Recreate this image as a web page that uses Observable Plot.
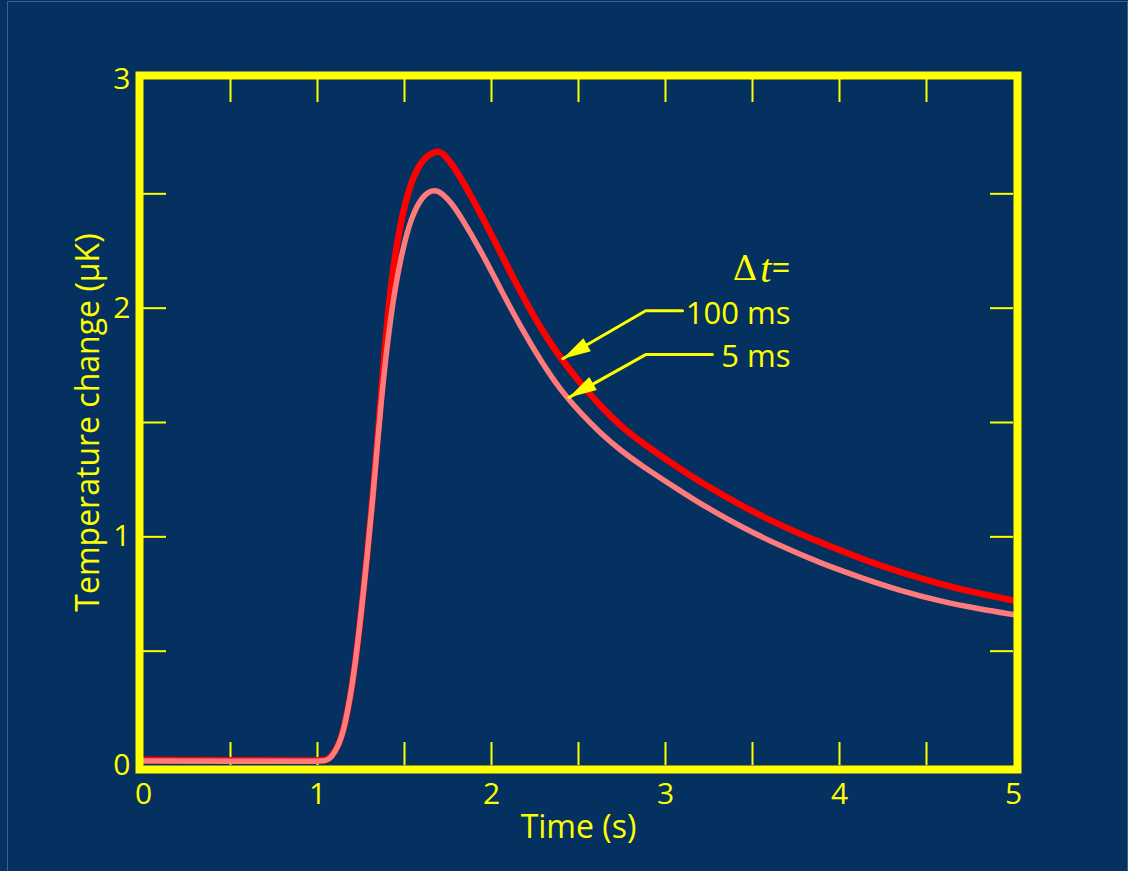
<!DOCTYPE html>
<html>
<head>
<meta charset="utf-8">
<script src="https://cdn.jsdelivr.net/npm/d3@7"></script>
<script src="https://cdn.jsdelivr.net/npm/@observablehq/plot@0.6"></script>
<style>
  html, body { margin: 0; padding: 0; background: #04315f; overflow: hidden; }
  #wrap { position: relative; width: 1128px; height: 871px; }
  #edge { position: absolute; left: 7px; top: 1px; width: 1119px; height: 880px;
          border: 1px solid #3b5f90; border-bottom: none; pointer-events: none; }
  #chart { position: absolute; left: 0; top: 0; }
</style>
</head>
<body>
<div id="wrap"><div id="edge"></div><div id="chart"></div></div>
<script>
// ---- data ----
const pinkT = [0, 0.5, 1.0, 1.05, 1.08, 1.12, 1.155, 1.213, 1.27, 1.318, 1.365, 1.423, 1.48, 1.538, 1.61, 1.675, 1.72, 1.77, 1.824, 1.94, 2.054, 2.17, 2.283, 2.398, 2.513, 2.628, 2.742, 2.857, 3.087, 3.20, 3.43, 3.66, 3.89, 4.12, 4.35, 4.58, 4.81, 5.0];
const pinkV = [0.02, 0.018, 0.018, 0.02, 0.035, 0.085, 0.16, 0.40, 0.80, 1.16, 1.60, 1.99, 2.23, 2.40, 2.50, 2.52, 2.50, 2.46, 2.40, 2.25, 2.08, 1.915, 1.77, 1.64, 1.54, 1.452, 1.378, 1.314, 1.20, 1.145, 1.045, 0.96, 0.885, 0.822, 0.764, 0.718, 0.684, 0.66];
const redT = [0, 0.5, 1.0, 1.05, 1.08, 1.12, 1.155, 1.213, 1.27, 1.318, 1.365, 1.41, 1.46, 1.52, 1.595, 1.68, 1.72, 1.767, 1.824, 1.94, 2.054, 2.17, 2.283, 2.398, 2.513, 2.628, 2.742, 2.857, 3.087, 3.20, 3.43, 3.66, 3.89, 4.12, 4.35, 4.58, 4.81, 5.0];
const redV = [0.025, 0.022, 0.022, 0.024, 0.037, 0.087, 0.162, 0.402, 0.805, 1.17, 1.62, 2.04, 2.31, 2.52, 2.65, 2.69, 2.68, 2.635, 2.57, 2.41, 2.24, 2.065, 1.91, 1.78, 1.67, 1.57, 1.485, 1.415, 1.295, 1.24, 1.138, 1.05, 0.975, 0.905, 0.845, 0.793, 0.75, 0.722];

const xTickLabels = [0, 1, 2, 3, 4, 5];
const yTickLabels = [0, 1, 2, 3];
const xMinorTicks = [0.5, 1, 1.5, 2, 2.5, 3, 3.5, 4, 4.5];
const yMinorTicks = [0.5, 1, 1.5, 2, 2.5];

// annotation leaders (data units)
const leaderName = ["100 ms", "100 ms", "100 ms", "5 ms", "5 ms", "5 ms"];
const leaderT = [3.098, 2.886, 2.41, 3.27, 2.886, 2.444];
const leaderV = [1.989, 1.989, 1.779, 1.797, 1.797, 1.609];
const arrowTipT = [2.41, 2.444];
const arrowTipV = [1.779, 1.609];
const labelText = ["100 ms", "5 ms"];
const labelT = [3.718, 3.718];
const labelV = [1.976, 1.784];
const deltaT = [3.718];
const deltaV = [2.172];

const xLabel = "Time (s)";
const yLabel = "Temperature change (\u03bcK)";

// ---- styles ----
const YELLOW = "#ffff00";
const RED = "#ff0000";
const PINK = "#ff7a7a";
const FONT = "'Open Sans', Lato, sans-serif";
const SERIF = "'Liberation Serif', 'DejaVu Serif', serif";

const pink = pinkT.map((t, i) => ({t, v: pinkV[i]}));
const red = redT.map((t, i) => ({t, v: redV[i]}));
const leaders = leaderT.map((t, i) => ({t, v: leaderV[i], z: leaderName[i]}));
const tips = arrowTipT.map((t, i) => ({t, v: arrowTipV[i]}));
const labels = labelT.map((t, i) => ({t, v: labelV[i], s: labelText[i]}));
const delta = deltaT.map((t, i) => ({t, v: deltaV[i]}));

// filled arrowhead symbol, tip at the anchor point
function arrowHead(angleDeg, L, W) {
  const a = angleDeg * Math.PI / 180;
  const dx = Math.cos(a), dy = Math.sin(a);
  const nx = -dy, ny = dx;
  return {
    draw(ctx) {
      ctx.moveTo(0, 0);
      ctx.lineTo(-L * dx + W * nx, -L * dy + W * ny);
      ctx.lineTo(-L * dx - W * nx, -L * dy - W * ny);
      ctx.closePath();
    }
  };
}

const tickLenY = 23 / 228.7; // in y units
const tickLenX = 23 / 174;   // in x units

const chart = Plot.plot({
  width: 1128,
  height: 871,
  marginLeft: 143,
  marginRight: 115,
  marginTop: 79,
  marginBottom: 106,
  style: {background: "transparent", color: YELLOW, fontFamily: FONT, overflow: "visible"},
  x: {domain: [0, 5]},
  y: {domain: [0, 3]},
  marks: [
    Plot.axisX({ticks: xTickLabels, tickSize: 0, tickPadding: 17, fontSize: 30, label: null, tickFormat: d => String(d), fill: YELLOW}),
    Plot.axisY({ticks: yTickLabels, tickSize: 0, tickPadding: 13, fontSize: 30, label: null, tickFormat: d => String(d), fill: YELLOW}),
    // inward ticks on all four sides
    Plot.ruleX(xMinorTicks, {x: d => d, y1: 0, y2: tickLenY, stroke: YELLOW, strokeWidth: 2}),
    Plot.ruleX(xMinorTicks, {x: d => d, y1: 3 - tickLenY, y2: 3, stroke: YELLOW, strokeWidth: 2}),
    Plot.ruleY(yMinorTicks, {y: d => d, x1: 0, x2: tickLenX, stroke: YELLOW, strokeWidth: 2}),
    Plot.ruleY(yMinorTicks, {y: d => d, x1: 5 - tickLenX, x2: 5, stroke: YELLOW, strokeWidth: 2}),
    // curves
    Plot.line(red, {x: "t", y: "v", stroke: RED, strokeWidth: 6.5, curve: "basis"}),
    Plot.line(pink, {x: "t", y: "v", stroke: PINK, strokeWidth: 5.5, curve: "basis"}),
    // annotations
    Plot.line(leaders, {x: "t", y: "v", z: "z", stroke: YELLOW, strokeWidth: 3, strokeLinejoin: "miter"}),
    Plot.dot(tips, {x: "t", y: "v", symbol: arrowHead(150, 28, 7.5), fill: YELLOW, stroke: "none", r: 5}),
    Plot.text(labels, {x: "t", y: "v", text: "s", textAnchor: "end", fontSize: 31, fill: YELLOW}),
    Plot.text(delta, {x: "t", y: "v", text: () => "\u0394", textAnchor: "end", dx: -33, fontSize: 34, fontFamily: "'DejaVu Serif', serif", fill: YELLOW}),
    Plot.text(delta, {x: "t", y: "v", text: () => "t", textAnchor: "end", dx: -19, fontSize: 40, fontStyle: "italic", fontFamily: SERIF, fill: YELLOW}),
    Plot.text(delta, {x: "t", y: "v", text: () => "=", textAnchor: "end", dx: 0, fontSize: 33, fill: YELLOW}),
    // axis titles
    Plot.text([xLabel], {frameAnchor: "bottom", text: d => d, textAnchor: "middle", lineAnchor: "middle", dy: 62, fontSize: 32, fill: YELLOW}),
    Plot.text([yLabel], {frameAnchor: "left", text: d => d, textAnchor: "middle", lineAnchor: "middle", dx: -55, rotate: -90, fontSize: 32, fill: YELLOW}),
    // thick frame, just outside the data area
    Plot.frame({stroke: YELLOW, strokeWidth: 8, inset: -4})
  ]
});
document.getElementById("chart").append(chart);
</script>
</body>
</html>
